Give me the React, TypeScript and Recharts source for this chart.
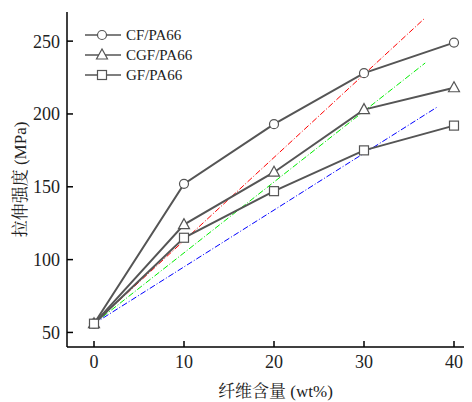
import { LineChart, Line, XAxis, YAxis, ReferenceLine } from "recharts";

const fiberContent = [0, 10, 20, 30, 40];
const cfValues = [56, 152, 193, 228, 249];
const cgfValues = [56, 124, 160, 203, 218];
const gfValues = [56, 115, 147, 175, 192];

const xTicks = [0, 10, 20, 30, 40];
const xMinorTicks = [5, 15, 25, 35];
const yTicks = [50, 100, 150, 200, 250];
const yMinorTicks = [75, 125, 175, 225];

// dash-dot guide lines: [x1, y1, x2, y2]
const redGuide = [0, 56, 36.8, 266];
const greenGuide = [0, 56, 36.8, 235];
const blueGuide = [0, 56, 38.2, 205];

const data = fiberContent.map((x, i) => ({ x, cf: cfValues[i], cgf: cgfValues[i], gf: gfValues[i] }));

const FONT = "'Liberation Serif', 'Noto Serif CJK SC', 'Noto Sans CJK SC', serif";
const LINE = "#555555";

function Marker({ cx, cy, shape }: { cx: number; cy: number; shape: string }) {
  if (cx == null || cy == null) return null;
  if (shape === "circle") return <circle cx={cx} cy={cy} r={4.5} fill="#fff" stroke={LINE} strokeWidth={1.2} />;
  if (shape === "triangle")
    return <polygon points={`${cx},${cy - 6} ${cx - 5.5},${cy + 4} ${cx + 5.5},${cy + 4}`} fill="#fff" stroke={LINE} strokeWidth={1.2} />;
  return <rect x={cx - 4.5} y={cy - 4.5} width={9} height={9} fill="#fff" stroke={LINE} strokeWidth={1.2} />;
}

const legendItems = [
  { name: "CF/PA66", shape: "circle" },
  { name: "CGF/PA66", shape: "triangle" },
  { name: "GF/PA66", shape: "square" },
];

function LegendBox() {
  return (
    <div style={{ position: "absolute", left: 77, top: 17, fontFamily: FONT, fontSize: 15, color: "#222", lineHeight: "20px" }}>
      {legendItems.map((item) => (
        <div key={item.name} style={{ display: "flex", alignItems: "center", height: 20 }}>
          <svg width={36} height={20} style={{ display: "block" }}>
            <line x1={0} y1={10} x2={36} y2={10} stroke={LINE} strokeWidth={1.5} />
            <Marker cx={17} cy={10} shape={item.shape} />
          </svg>
          <span style={{ marginLeft: 5 }}>{item.name}</span>
        </div>
      ))}
    </div>
  );
}

function guide(g: number[], color: string) {
  return (
    <ReferenceLine
      segment={[{ x: g[0], y: g[1] }, { x: g[2], y: g[3] }]}
      stroke={color}
      strokeWidth={1}
      strokeDasharray="6 2 1 2"
    />
  );
}

export default function App() {
  const tickStyle = { fontFamily: FONT, fontSize: 18, fill: "#222" };
  return (
    <div style={{ position: "relative", width: 464, height: 394 }}>
      <LineChart width={464} height={394} data={data} margin={{ top: 4, right: 0, left: 0, bottom: 0 }}>
        <XAxis xAxisId="minor" dataKey="x" type="number" domain={[-3, 42]} ticks={xMinorTicks} tick={false}
          tickSize={-3} axisLine={false} height={0} stroke="#000" />
        <XAxis dataKey="x" type="number" domain={[-3, 42]} ticks={xTicks} tickSize={-6} tickMargin={14}
          height={55} stroke="#000" strokeWidth={1.5} tick={tickStyle}
          label={{ value: "纤维含量 (wt%)", position: "insideBottom", offset: 5, dx: 6, style: { fontFamily: FONT, fontSize: 17, fill: "#222" } }} />
        <XAxis xAxisId="top" orientation="top" dataKey="x" type="number" domain={[-3, 42]} tick={false}
          tickLine={false} height={0} stroke="#000" strokeWidth={1.5} />
        <YAxis yAxisId="minor" type="number" domain={[40, 270]} ticks={yMinorTicks} tick={false}
          tickSize={-3} axisLine={false} width={0} stroke="#000" />
        <YAxis type="number" domain={[40, 270]} ticks={yTicks} tickSize={-6} tickMargin={13} width={59}
          stroke="#000" strokeWidth={1.5} tick={tickStyle}
          label={{ value: "拉伸强度 (MPa)", angle: -90, position: "insideLeft", offset: 12, style: { fontFamily: FONT, fontSize: 17, fill: "#222", textAnchor: "middle" } }} />
        {guide(redGuide, "#ff0000")}
        {guide(greenGuide, "#00ee00")}
        {guide(blueGuide, "#0000ff")}
        <Line dataKey="cf" stroke={LINE} strokeWidth={2} isAnimationActive={false}
          dot={(p: any) => <Marker key={`cf${p.index}`} cx={p.cx} cy={p.cy} shape="circle" />} />
        <Line dataKey="cgf" stroke={LINE} strokeWidth={2} isAnimationActive={false}
          dot={(p: any) => <Marker key={`cgf${p.index}`} cx={p.cx} cy={p.cy} shape="triangle" />} />
        <Line dataKey="gf" stroke={LINE} strokeWidth={2} isAnimationActive={false}
          dot={(p: any) => <Marker key={`gf${p.index}`} cx={p.cx} cy={p.cy} shape="square" />} />
      </LineChart>
      <LegendBox />
    </div>
  );
}
